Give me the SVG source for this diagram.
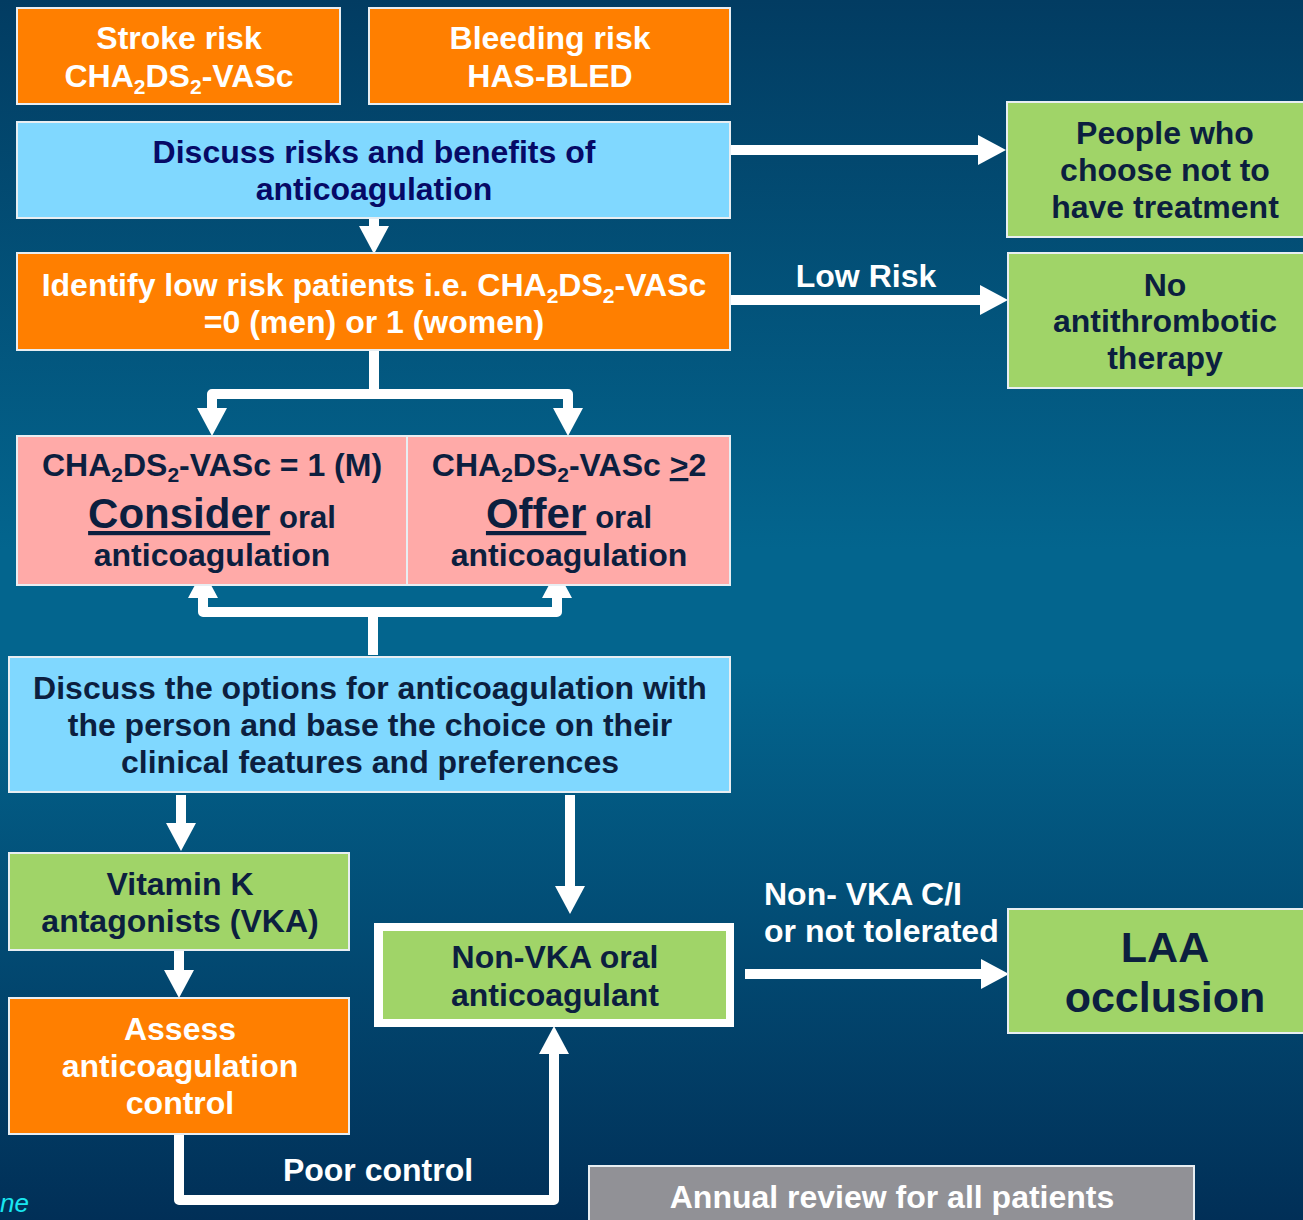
<svg xmlns="http://www.w3.org/2000/svg" width="1303" height="1220" viewBox="0 0 1303 1220">
<defs>
<linearGradient id="bg" x1="0" y1="0" x2="0" y2="1">
<stop offset="0" stop-color="#023c62"/>
<stop offset="0.45" stop-color="#03658e"/>
<stop offset="0.55" stop-color="#03658e"/>
<stop offset="1" stop-color="#012f57"/>
</linearGradient>
<marker id="ah" markerUnits="userSpaceOnUse" markerWidth="32" markerHeight="32" viewBox="0 -16 30 32" refX="0" refY="0" orient="auto">
<path d="M0,-15 L28,0 L0,15 z" fill="#ffffff"/>
</marker>
<style>
.t{font-family:"Liberation Sans",Arial,sans-serif;font-weight:bold;text-anchor:middle;font-size:32px}
.w{fill:#ffffff}
.d{fill:#0c1f3f}
.n{fill:#060a66}
.box{stroke:#e8eef2;stroke-width:2}
.or{fill:#ff7f00}
.bl{fill:#80d8ff}
.gr{fill:#a0d468}
.pk{fill:#ffaaa8}
.gy{fill:#919196}
.c{fill:none;stroke:#ffffff;stroke-width:10;stroke-linejoin:round}
</style>
</defs>
<rect x="0" y="0" width="1303" height="1220" fill="url(#bg)"/>

<g id="connectors">
<path class="c" d="M730,150 H978" marker-end="url(#ah)"/>
<path class="c" d="M374,218 V226" marker-end="url(#ah)"/>
<path class="c" d="M730,300 H980" marker-end="url(#ah)"/>
<path class="c" d="M374,350 V394 M212,408 V394 H568 V408"/>
<path class="c" d="M212,394 V408" marker-end="url(#ah)"/>
<path class="c" d="M568,394 V408" marker-end="url(#ah)"/>
<path class="c" d="M373,655 V612 M203,598 V612 H557 V598"/>
<path class="c" d="M203,612 V598" marker-end="url(#ah)"/>
<path class="c" d="M557,612 V598" marker-end="url(#ah)"/>
<path class="c" d="M181,795 V823" marker-end="url(#ah)"/>
<path class="c" d="M570,795 V886" marker-end="url(#ah)"/>
<path class="c" d="M745,974 H981" marker-end="url(#ah)"/>
<path class="c" d="M179,950 V970" marker-end="url(#ah)"/>
<path class="c" d="M179,1134 V1200 H554 V1054" marker-end="url(#ah)"/>
</g>

<g id="stroke-risk">
<rect class="box or" x="17" y="8" width="323" height="96"/>
<text class="t w" x="179" y="49">Stroke risk</text>
<text class="t w" x="179" y="87">CHA<tspan font-size="21" dy="7">2</tspan><tspan dy="-7">DS</tspan><tspan font-size="21" dy="7">2</tspan><tspan dy="-7">-VASc</tspan></text>
</g>

<g id="bleeding-risk">
<rect class="box or" x="369" y="8" width="361" height="96"/>
<text class="t w" x="550" y="49">Bleeding risk</text>
<text class="t w" x="550" y="87">HAS-BLED</text>
</g>

<g id="discuss-risks">
<rect class="box bl" x="17" y="122" width="713" height="96"/>
<text class="t n" x="374" y="163">Discuss risks and benefits of</text>
<text class="t n" x="374" y="200">anticoagulation</text>
</g>

<g id="no-treatment">
<rect class="box gr" x="1007" y="102" width="300" height="135"/>
<text class="t d" x="1165" y="144">People who</text>
<text class="t d" x="1165" y="181">choose not to</text>
<text class="t d" x="1165" y="218">have treatment</text>
</g>

<g id="identify-low-risk">
<rect class="box or" x="17" y="253" width="713" height="97"/>
<text class="t w" x="374" y="296">Identify low risk patients i.e. CHA<tspan font-size="21" dy="7">2</tspan><tspan dy="-7">DS</tspan><tspan font-size="21" dy="7">2</tspan><tspan dy="-7">-VASc</tspan></text>
<text class="t w" x="374" y="333">=0 (men) or 1 (women)</text>
</g>

<g id="low-risk-label">
<text class="t w" x="866" y="287">Low Risk</text>
</g>

<g id="no-antithrombotic">
<rect class="box gr" x="1008" y="253" width="300" height="135"/>
<text class="t d" x="1165" y="296">No</text>
<text class="t d" x="1165" y="332">antithrombotic</text>
<text class="t d" x="1165" y="369">therapy</text>
</g>

<g id="consider">
<rect class="box pk" x="17" y="436" width="390" height="149"/>
<text class="t d" x="212" y="476">CHA<tspan font-size="21" dy="6">2</tspan><tspan dy="-6">DS</tspan><tspan font-size="21" dy="6">2</tspan><tspan dy="-6">-VASc = 1 (M)</tspan></text>
<text class="t d" x="212" y="528"><tspan font-size="42" text-decoration="underline">Consider</tspan> <tspan font-size="31">oral</tspan></text>
<text class="t d" x="212" y="566">anticoagulation</text>
</g>

<g id="offer">
<rect class="box pk" x="407" y="436" width="323" height="149"/>
<text class="t d" x="569" y="476">CHA<tspan font-size="21" dy="6">2</tspan><tspan dy="-6">DS</tspan><tspan font-size="21" dy="6">2</tspan><tspan dy="-6">-VASc </tspan><tspan text-decoration="underline">&gt;</tspan>2</text>
<text class="t d" x="569" y="528"><tspan font-size="42" text-decoration="underline">Offer</tspan> <tspan font-size="31">oral</tspan></text>
<text class="t d" x="569" y="566">anticoagulation</text>
</g>

<g id="discuss-options">
<rect class="box bl" x="9" y="657" width="721" height="135"/>
<text class="t d" x="370" y="699">Discuss the options for anticoagulation with</text>
<text class="t d" x="370" y="736">the person and base the choice on their</text>
<text class="t d" x="370" y="773">clinical features and preferences</text>
</g>

<g id="vka">
<rect class="box gr" x="9" y="853" width="340" height="97"/>
<text class="t d" x="180" y="895">Vitamin K</text>
<text class="t d" x="180" y="932">antagonists (VKA)</text>
</g>

<g id="assess">
<rect class="box or" x="9" y="998" width="340" height="136"/>
<text class="t w" x="180" y="1040">Assess</text>
<text class="t w" x="180" y="1077">anticoagulation</text>
<text class="t w" x="180" y="1114">control</text>
</g>

<g id="non-vka">
<rect x="374" y="923" width="360" height="104" fill="#ffffff"/>
<rect class="gr" x="383" y="931" width="343" height="88"/>
<text class="t d" x="555" y="968">Non-VKA oral</text>
<text class="t d" x="555" y="1006">anticoagulant</text>
</g>

<g id="non-vka-label">
<text class="t w" x="764" y="905" style="text-anchor:start">Non- VKA C/I</text>
<text class="t w" x="764" y="942" style="text-anchor:start">or not tolerated</text>
</g>

<g id="laa">
<rect class="box gr" x="1008" y="909" width="300" height="124"/>
<text class="t d" x="1165" y="962" style="font-size:43px">LAA</text>
<text class="t d" x="1165" y="1012" style="font-size:43px">occlusion</text>
</g>

<g id="poor-control-label">
<text class="t w" x="378" y="1181">Poor control</text>
</g>

<g id="annual-review">
<rect class="box gy" x="589" y="1166" width="605" height="70"/>
<text class="t w" x="892" y="1208">Annual review for all patients</text>
</g>

<text x="0" y="1212" font-family="Liberation Sans, Arial, sans-serif" font-style="italic" font-size="26" fill="#19e6f0">ne</text>
</svg>
